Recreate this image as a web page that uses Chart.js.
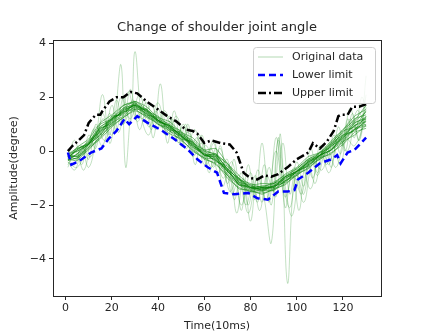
<!DOCTYPE html>
<html>
<head>
<meta charset="utf-8">
<script src="https://cdn.jsdelivr.net/npm/chart.js@4"></script>
<style>
  html, body { margin: 0; padding: 0; background: #fff; }
  #wrap { width: 423px; height: 333px; }
</style>
</head>
<body>
<div id="wrap"><canvas id="angleChart" width="423" height="333"></canvas></div>
<script>
// ========== data ==========
const chartTitle = 'Change of shoulder joint angle';
const xTicks = [0, 20, 40, 60, 80, 100, 120];
const yTicks = [-4, -2, 0, 2, 4];

// sample times for the tight traces
const timeGrid = [1, 5, 10, 15, 20, 25, 30, 35, 40, 45, 50, 55, 60, 65, 70, 75, 80, 85, 90, 95, 100, 105, 110, 115, 120, 125, 130];

const trace1  = [-0.1, 0.1, 0.3, 1.0, 1.2, 1.7, 1.8, 1.5, 1.3, 0.95, 0.75, 0.3, 0.05, -0.15, -0.45, -1.05, -1.2, -1.35, -1.15, -0.9, -0.65, -0.3, -0.1, 0.35, 0.7, 1.2, 1.35];
const trace2  = [-0.3, -0.25, 0.15, 0.5, 1.05, 1.3, 1.65, 1.3, 1.1, 0.75, 0.55, 0.1, -0.25, -0.3, -0.9, -1.25, -1.5, -1.45, -1.45, -1.1, -0.9, -0.5, -0.3, 0.05, 0.35, 0.8, 0.95];
const trace3  = [-0.25, 0.1, 0.25, 0.9, 1.15, 1.5, 1.7, 1.55, 1.15, 0.9, 0.6, 0.35, -0.1, -0.15, -0.65, -1.05, -1.35, -1.4, -1.3, -0.95, -0.75, -0.35, -0.15, 0.25, 0.55, 1.05, 1.2];
const trace4  = [-0.15, -0.3, 0.25, 0.6, 1.15, 1.5, 1.7, 1.35, 1.15, 0.9, 0.6, 0.15, -0.1, -0.35, -0.7, -1.25, -1.35, -1.4, -1.3, -1.15, -0.75, -0.55, -0.15, 0.05, 0.55, 0.8, 1.3];
const trace5  = [-0.35, -0.1, 0.3, 0.75, 1.2, 1.45, 1.55, 1.55, 1.15, 0.9, 0.45, 0.35, -0.15, -0.1, -0.7, -1.0, -1.35, -1.35, -1.35, -0.95, -0.75, -0.4, -0.15, 0.25, 0.65, 1.1, 1.45];
const trace6  = [-0.2, 0.15, 0.45, 1.05, 1.35, 1.7, 1.85, 1.65, 1.25, 1.1, 0.7, 0.5, 0.05, 0.1, -0.45, -0.9, -1.25, -1.2, -1.2, -0.85, -0.6, -0.2, -0.05, 0.4, 0.8, 1.3, 1.55];
const trace7  = [-0.3, -0.35, 0.1, 0.45, 0.9, 1.25, 1.55, 1.25, 1.05, 0.65, 0.45, 0.0, -0.25, -0.5, -0.9, -1.4, -1.45, -1.6, -1.4, -1.25, -0.85, -0.65, -0.25, -0.1, 0.35, 0.6, 0.95];
const trace8  = [-0.1, 0.0, 0.25, 0.85, 1.0, 1.55, 1.75, 1.45, 1.1, 0.95, 0.55, 0.25, -0.15, -0.25, -0.75, -1.15, -1.4, -1.35, -1.35, -1.0, -0.8, -0.4, -0.2, 0.2, 0.45, 1.05, 1.25];
const trace9  = [-0.2, -0.15, 0.3, 0.65, 1.25, 1.4, 1.75, 1.45, 1.15, 0.85, 0.65, 0.2, 0.0, -0.3, -0.75, -1.2, -1.35, -1.5, -1.25, -1.1, -0.75, -0.5, -0.15, 0.05, 0.6, 0.75, 1.15];
const trace10 = [-0.25, 0.05, 0.3, 0.85, 1.05, 1.6, 1.7, 1.5, 1.15, 0.95, 0.55, 0.3, -0.15, -0.15, -0.65, -1.05, -1.35, -1.3, -1.3, -0.95, -0.75, -0.35, -0.15, 0.3, 0.6, 0.95, 1.2];
const trace11 = [-0.15, -0.2, 0.25, 0.6, 1.2, 1.45, 1.7, 1.4, 1.15, 0.8, 0.6, 0.15, -0.1, -0.35, -0.65, -1.25, -1.3, -1.45, -1.3, -1.15, -0.75, -0.55, -0.15, 0.05, 0.5, 0.8, 1.1];
const trace12 = [-0.2, 0.0, 0.25, 0.8, 1.1, 1.55, 1.65, 1.5, 1.1, 0.95, 0.55, 0.3, -0.15, -0.2, -0.75, -1.1, -1.4, -1.35, -1.35, -1.0, -0.8, -0.4, -0.2, 0.2, 0.5, 0.95, 1.1];
const trace13 = [-0.3, -0.1, 0.4, 0.7, 1.3, 1.35, 1.8, 1.35, 1.25, 0.8, 0.7, 0.2, -0.05, -0.4, -0.55, -1.15, -1.25, -1.45, -1.2, -1.05, -0.7, -0.45, -0.05, 0.15, 0.75, 0.9, 1.5];
const trace14 = [-0.15, -0.2, 0.15, 0.75, 0.95, 1.45, 1.6, 1.4, 1.0, 0.85, 0.5, 0.25, -0.2, -0.2, -0.85, -1.2, -1.45, -1.4, -1.4, -1.1, -0.85, -0.45, -0.25, 0.1, 0.4, 0.85, 1.0];
const trace15 = [-0.25, 0.05, 0.35, 0.9, 1.2, 1.6, 1.85, 1.55, 1.2, 1.0, 0.65, 0.4, 0.0, -0.1, -0.5, -1.0, -1.3, -1.3, -1.2, -0.95, -0.65, -0.3, -0.05, 0.3, 0.8, 1.15, 1.7];
const trace16 = [-0.35, -0.25, 0.05, 0.55, 0.95, 1.25, 1.5, 1.3, 1.0, 0.75, 0.4, 0.05, -0.3, -0.45, -1.0, -1.35, -1.5, -1.55, -1.45, -1.2, -0.9, -0.6, -0.3, -0.05, 0.25, 0.7, 0.85];

// noisy recordings (own time stamps: peaks and troughs)
const noisyX1 = [1, 4, 7, 10, 13, 16, 19, 22, 25, 28, 30, 33, 36, 39, 42, 45, 48, 51, 54, 57, 60, 63, 66, 69, 72, 75, 78, 81, 84, 87, 90, 93, 96, 99, 102, 105, 108, 111, 114, 117, 120, 123, 126, 130];
const noisyY1 = [-0.3, -0.5, 0.2, -0.3, 1.0, 0.6, 1.4, 0.8, 2.0, 1.0, 3.7, 1.2, 0.6, 1.5, 0.9, 1.3, 0.5, 1.0, 0.2, 0.5, -0.3, 0.1, -0.8, -0.4, -1.6, -1.0, -2.0, -1.3, -2.2, -0.9, -1.5, 0.6, -4.9, -1.0, -1.6, -0.5, -1.2, 0.0, -0.5, 0.6, 0.2, 1.2, 0.8, 1.6];
const noisyX2 = [1, 4, 7, 10, 13, 16, 19, 21, 24, 26, 29, 32, 35, 38, 41, 44, 47, 50, 53, 56, 59, 62, 65, 68, 71, 74, 77, 80, 83, 86, 89, 92, 95, 98, 101, 104, 107, 110, 113, 116, 119, 122, 125, 128, 130];
const noisyY2 = [-0.4, -0.7, 0.0, -0.6, 0.4, 2.1, 0.3, 1.0, 3.2, -0.6, 1.8, 0.8, 1.6, 0.5, 2.5, 0.3, 1.5, 0.2, 1.0, -0.5, 0.6, -0.8, 0.1, -1.3, -0.6, -2.3, -1.0, -2.6, -0.7, -1.8, -3.4, 0.5, -2.1, -0.7, -2.2, -0.3, -1.0, 0.2, -0.5, 0.6, -0.1, 1.2, 0.5, 2.0, 1.6];
const noisyX3 = [1, 4, 7, 10, 13, 16, 19, 22, 25, 28, 31, 34, 37, 40, 43, 46, 49, 52, 55, 58, 61, 64, 67, 70, 73, 76, 79, 82, 85, 88, 91, 94, 97, 100, 103, 106, 109, 112, 115, 118, 121, 124, 127, 130];
const noisyY3 = [-0.2, 0.4, -0.5, 0.6, 0.1, 1.4, 0.6, 1.9, 1.0, 2.3, 1.2, 1.9, 0.8, 1.6, 0.6, 1.2, 0.3, 1.0, -0.1, 0.6, -0.5, 0.3, -0.6, -0.3, -1.8, -0.8, -2.0, -0.9, -1.9, -0.6, -1.7, 0.3, -1.6, -0.4, -1.3, 0.1, -0.8, 0.2, -0.6, 0.9, 0.0, 1.4, 0.4, 2.8];
const noisyX4 = [1, 5, 9, 13, 17, 21, 25, 29, 33, 37, 41, 45, 49, 53, 57, 61, 64, 67, 70, 73, 76, 79, 82, 85, 88, 91, 94, 97, 100, 103, 106, 109, 113, 117, 121, 125, 130];
const noisyY4 = [-0.4, -0.6, 0.1, 0.9, 0.4, 1.4, 1.0, 1.9, 1.2, 1.7, 0.9, 1.1, 0.3, 0.7, 0.0, 0.2, -0.6, 0.2, -1.2, -0.3, -2.2, -0.5, -1.8, 0.3, -1.9, 0.5, -1.1, -2.1, -0.9, -1.6, -0.2, -0.9, 0.1, -0.6, 0.5, 0.2, 1.3];
const noisyX5 = [1, 6, 11, 16, 20, 24, 28, 32, 36, 40, 44, 48, 52, 56, 60, 64, 68, 72, 76, 80, 83, 86, 89, 92, 95, 98, 102, 106, 110, 114, 118, 122, 126, 130];
const noisyY5 = [-0.5, 0.2, -0.2, 1.2, 0.6, 2.0, 1.2, 2.1, 0.9, 1.8, 0.6, 1.3, 0.1, 0.8, -0.5, 0.4, -1.0, -0.4, -2.0, -0.8, -1.9, -0.5, -2.0, 0.4, -1.3, -2.4, -0.5, -1.4, 0.0, -0.8, 0.5, 0.0, 1.5, 0.9];
const noisyX6 = [1, 4, 8, 12, 16, 20, 23, 27, 31, 35, 39, 43, 47, 51, 55, 59, 63, 67, 71, 75, 79, 83, 87, 91, 95, 99, 103, 107, 111, 115, 119, 123, 127, 130];
const noisyY6 = [-0.6, 0.0, -0.7, 0.8, 0.2, 1.7, 0.7, 2.2, 1.1, 1.8, 0.8, 1.5, 0.4, 0.9, -0.2, 0.3, -0.6, 0.1, -1.5, -0.9, -2.3, -1.0, -1.8, 0.0, -1.7, -0.6, -1.9, -0.4, -0.7, 0.3, -0.5, 1.6, 0.4, 2.1];

// limits
const upperX = [1, 3, 5, 8, 10, 13, 15, 16, 19, 22, 25, 28, 31, 35, 40, 44, 48, 52, 55, 57, 60, 63, 67, 71, 74, 77, 80, 83, 86, 89, 92, 96, 100, 105, 107, 110, 113, 116, 118, 119, 122, 124, 127, 130];
const upperY = [0.0, 0.2, 0.35, 0.6, 1.05, 1.35, 1.35, 1.5, 1.85, 2.0, 2.0, 2.2, 2.15, 1.85, 1.55, 1.3, 1.1, 0.8, 0.75, 0.65, 0.3, 0.4, 0.3, 0.25, -0.05, -0.8, -1.0, -1.05, -0.9, -0.95, -0.85, -0.6, -0.3, -0.05, 0.3, 0.1, 0.35, 0.75, 1.3, 1.35, 1.35, 1.65, 1.65, 1.75];
const lowerX = [1, 2.5, 5, 7, 11, 15.5, 18.5, 22, 25.5, 27.5, 31, 35.5, 41, 47, 53, 57, 61.5, 65.5, 68.5, 73, 79, 83, 87.5, 92, 96, 99, 100.5, 105, 110, 115, 117.5, 119, 122, 125, 130];
const lowerY = [-0.05, -0.5, -0.4, -0.3, -0.05, 0.1, 0.45, 0.75, 1.2, 1.0, 1.3, 1.05, 0.8, 0.45, 0.05, -0.3, -0.6, -0.8, -1.55, -1.6, -1.55, -1.75, -1.8, -1.5, -1.5, -1.45, -1.05, -0.8, -0.45, -0.3, -0.15, -0.45, -0.05, 0.05, 0.5];

// ========== helpers ==========
const FONT = "'DejaVu Sans', sans-serif";
const INK = '#262626';
const pairUp = (xs, ys) => xs.map((x, i) => ({ x: x, y: ys[i] }));

const tightTraces = [trace1, trace2, trace3, trace4, trace5, trace6, trace7, trace8,
                     trace9, trace10, trace11, trace12, trace13, trace14, trace15, trace16];
const noisyTraces = [[noisyX1, noisyY1], [noisyX2, noisyY2], [noisyX3, noisyY3],
                     [noisyX4, noisyY4], [noisyX5, noisyY5], [noisyX6, noisyY6]];

const datasets = [];

datasets.push({
  label: 'Upper limit',
  data: pairUp(upperX, upperY),
  borderColor: '#000000',
  borderWidth: 2.5,
  borderDash: [8, 3, 2, 3],
  pointRadius: 0,
  fill: false
});
datasets.push({
  label: 'Lower limit',
  data: pairUp(lowerX, lowerY),
  borderColor: '#0000ff',
  borderWidth: 2.5,
  borderDash: [7, 4],
  pointRadius: 0,
  fill: false
});

tightTraces.forEach(tr => {
  datasets.push({
    label: 'Original data',
    data: pairUp(timeGrid, tr),
    borderColor: 'rgba(0,128,0,0.5)',
    borderWidth: 1,
    pointRadius: 0,
    tension: 0.15
  });
});

noisyTraces.forEach(([xs, ys]) => {
  datasets.push({
    label: 'Original data',
    data: pairUp(xs, ys),
    borderColor: 'rgba(0,128,0,0.3)',
    borderWidth: 0.8,
    pointRadius: 0,
    tension: 0.4
  });
});

// ========== title over the plot, box around it, legend inside ==========
const frameAndLegend = {
  id: 'frameAndLegend',
  afterDraw(chart) {
    const { ctx, chartArea: a } = chart;
    ctx.save();

    // title centred on the plot area, like matplotlib
    ctx.fillStyle = INK;
    ctx.font = '13px ' + FONT;
    ctx.textAlign = 'center';
    ctx.textBaseline = 'middle';
    ctx.fillText(chartTitle, (a.left + a.right) / 2, 28);
    ctx.textAlign = 'left';

    ctx.strokeStyle = INK;
    ctx.lineWidth = 1;
    ctx.setLineDash([]);
    ctx.strokeRect(Math.round(a.left) + 0.5, Math.round(a.top) + 0.5,
                   Math.round(a.right - a.left), Math.round(a.bottom - a.top));

    // legend box
    const w = 122, h = 56;
    const bx = a.right - 6 - w, by = a.top + 7;
    ctx.fillStyle = 'rgba(255,255,255,0.8)';
    ctx.strokeStyle = '#cccccc';
    ctx.beginPath();
    ctx.roundRect(bx + 0.5, by + 0.5, w, h, 3);
    ctx.fill();
    ctx.stroke();

    const rows = [
      { text: 'Original data', color: 'rgba(0,128,0,0.3)', width: 1, dash: [] },
      { text: 'Lower limit', color: '#0000ff', width: 2.5, dash: [7, 4] },
      { text: 'Upper limit', color: '#000000', width: 2.5, dash: [8, 3, 2, 3] }
    ];
    ctx.font = '11px ' + FONT;
    rows.forEach((r, i) => {
      const y = by + 10 + i * 18;
      ctx.strokeStyle = r.color;
      ctx.lineWidth = r.width;
      ctx.setLineDash(r.dash);
      ctx.beginPath();
      ctx.moveTo(bx + 5, y);
      ctx.lineTo(bx + 30, y);
      ctx.stroke();
      ctx.setLineDash([]);
      ctx.fillStyle = INK;
      ctx.fillText(r.text, bx + 39, y);
    });
    ctx.restore();
  }
};

const minus = v => (v < 0 ? '\u2212' + Math.abs(v) : String(v));

const ctx = document.getElementById('angleChart').getContext('2d');
new Chart(ctx, {
  type: 'line',
  data: { datasets: datasets },
  options: {
    responsive: false,
    animation: false,
    layout: { padding: { left: 4, right: 42, top: 40, bottom: 0 } },
    plugins: {
      legend: { display: false },
      tooltip: { enabled: false },
      title: { display: false }
    },
    scales: {
      x: {
        type: 'linear',
        min: -5.45,
        max: 136.45,
        afterFit: s => { s.height = 37; },
        afterBuildTicks: s => { s.ticks = xTicks.map(v => ({ value: v })); },
        border: { display: false },
        grid: { drawOnChartArea: false, drawTicks: true, tickLength: 4, color: INK },
        ticks: { color: INK, font: { family: FONT, size: 11 }, padding: 2, maxRotation: 0 },
        title: { display: true, text: 'Time(10ms)', color: INK, font: { family: FONT, size: 11 }, padding: { top: 0, bottom: 0 } }
      },
      y: {
        type: 'linear',
        min: -5.38,
        max: 4.13,
        afterFit: s => { s.width = 49; },
        afterBuildTicks: s => { s.ticks = yTicks.map(v => ({ value: v })); },
        border: { display: false },
        grid: { drawOnChartArea: false, drawTicks: true, tickLength: 4, color: INK },
        ticks: { color: INK, font: { family: FONT, size: 11 }, padding: 3, callback: v => minus(v) },
        title: { display: true, text: 'Amplitude(degree)', color: INK, font: { family: FONT, size: 11 }, padding: { top: 4, bottom: 4 } }
      }
    }
  },
  plugins: [frameAndLegend]
});
</script>
</body>
</html>
